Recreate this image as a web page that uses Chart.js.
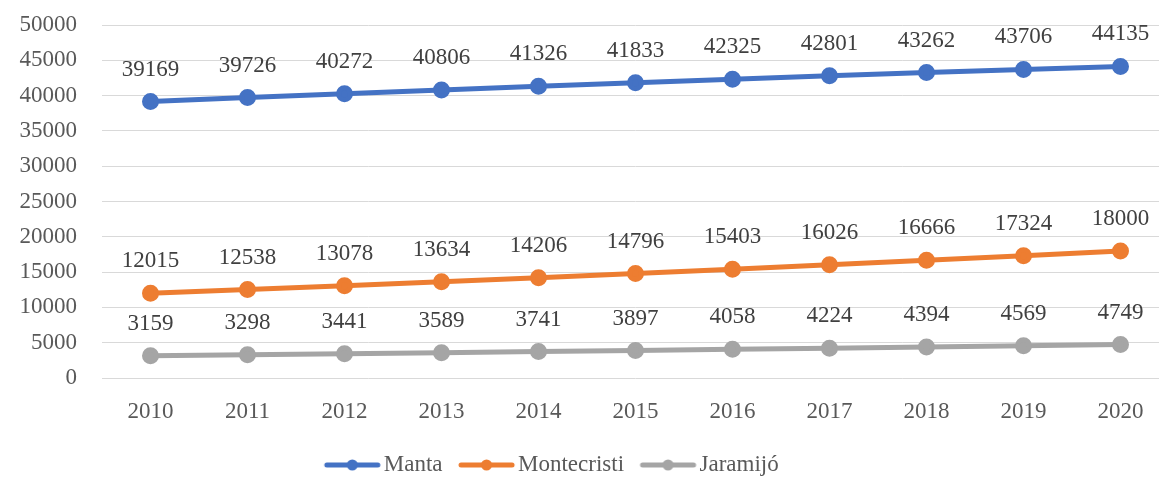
<!DOCTYPE html>
<html lang="en">
<head>
    <meta charset="UTF-8">
    <title>Población 2010-2020</title>
    <script src="https://cdn.jsdelivr.net/npm/chart.js"></script>
    <style>
        body {
            margin: 0;
            padding: 0;
            background: #fff;
            overflow: hidden;
        }
    </style>
</head>
<body>
    <canvas id="popChart" width="1180" height="520"></canvas>

    <script>
        // Data
        const years = ['2010', '2011', '2012', '2013', '2014', '2015', '2016', '2017', '2018', '2019', '2020'];
        const manta = [39169, 39726, 40272, 40806, 41326, 41833, 42325, 42801, 43262, 43706, 44135];
        const montecristi = [12015, 12538, 13078, 13634, 14206, 14796, 15403, 16026, 16666, 17324, 18000];
        const jaramijo = [3159, 3298, 3441, 3589, 3741, 3897, 4058, 4224, 4394, 4569, 4749];

        const FONT = 'Liberation Serif, Times New Roman, serif';
        const colors = ['#4472C4', '#ED7D31', '#A5A5A5'];
        const LEGEND_PAD = 20;

        // legend marker: a short line with a dot in the middle
        function legendMarker(color) {
            const c = document.createElement('canvas');
            c.width = 63;
            c.height = 14;
            const g = c.getContext('2d');
            g.strokeStyle = color;
            g.lineWidth = 5;
            g.lineCap = 'round';
            g.beginPath();
            g.moveTo(8, 7);
            g.lineTo(59, 7);
            g.stroke();
            g.fillStyle = color;
            g.beginPath();
            g.arc(33.5, 7, 5.5, 0, Math.PI * 2);
            g.fill();
            return c;
        }
        const markers = colors.map(legendMarker);

        // value labels above each point
        const valueLabels = {
            id: 'valueLabels',
            afterDatasetsDraw(chart) {
                const ctx = chart.ctx;
                ctx.save();
                ctx.font = '23px ' + FONT;
                ctx.fillStyle = '#404040';
                ctx.textAlign = 'center';
                ctx.textBaseline = 'middle';
                chart.data.datasets.forEach((ds, i) => {
                    chart.getDatasetMeta(i).data.forEach((pt, j) => {
                        ctx.fillText(ds.data[j], pt.x, pt.y - 32);
                    });
                });
                ctx.restore();
            }
        };

        // put the legend where it sits in the original
        const legendShift = {
            id: 'legendShift',
            afterLayout(chart) {
                const lg = chart.legend;
                const h = lg.bottom - lg.top;
                lg.left -= 35;
                lg.right -= 35;
                lg.top = 465 - 11.5 - LEGEND_PAD;
                lg.bottom = lg.top + h;
            }
        };

        const ctx = document.getElementById('popChart').getContext('2d');
        new Chart(ctx, {
            type: 'line',
            data: {
                labels: years,
                datasets: [
                    { label: 'Manta', data: manta },
                    { label: 'Montecristi', data: montecristi },
                    { label: 'Jaramijó', data: jaramijo }
                ].map((d, i) => Object.assign(d, {
                    borderColor: colors[i],
                    backgroundColor: colors[i],
                    borderWidth: 5,
                    pointRadius: 6,
                    pointHoverRadius: 6,
                    tension: 0,
                    fill: false
                }))
            },
            plugins: [valueLabels, legendShift],
            options: {
                responsive: false,
                animation: false,
                devicePixelRatio: 1,
                layout: {
                    padding: { top: 25, right: 3, left: 0, bottom: 0 }
                },
                plugins: {
                    tooltip: { enabled: false },
                    legend: {
                        position: 'bottom',
                        labels: {
                            usePointStyle: true,
                            pointStyleWidth: 44,
                            padding: LEGEND_PAD,
                            color: '#595959',
                            font: { family: FONT, size: 23 },
                            generateLabels(chart) {
                                const items = Chart.defaults.plugins.legend.labels.generateLabels(chart);
                                items.forEach((it, i) => { it.pointStyle = markers[i]; });
                                return items;
                            }
                        }
                    }
                },
                scales: {
                    x: {
                        offset: true,
                        grid: { display: false, drawTicks: false },
                        border: { display: false },
                        ticks: {
                            color: '#595959',
                            padding: 20,
                            font: { family: FONT, size: 23 }
                        },
                        afterFit(scale) { scale.height = 520 - 378 - (23 + LEGEND_PAD + 10); }
                    },
                    y: {
                        min: 0,
                        max: 50000,
                        grid: { color: '#d9d9d9', lineWidth: 1, drawTicks: false },
                        border: { display: false },
                        ticks: {
                            stepSize: 5000,
                            color: '#595959',
                            padding: 25,
                            font: { family: FONT, size: 23 },
                            callback: v => String(v)
                        },
                        afterFit(scale) {
                            scale.width = 102;
                            scale.paddingTop = 0;
                            scale.paddingBottom = 0;
                        }
                    }
                }
            }
        });
    </script>
</body>
</html>
